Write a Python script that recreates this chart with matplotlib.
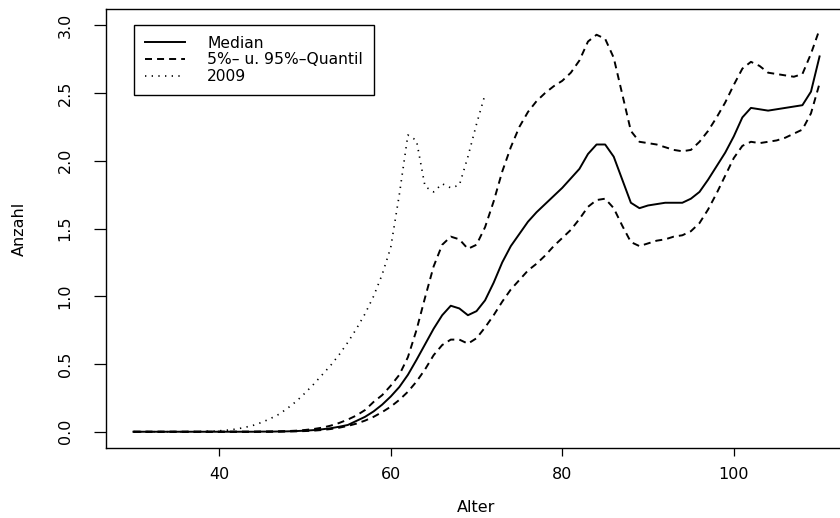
import matplotlib
matplotlib.use("Agg")
import matplotlib.pyplot as plt
import numpy as np

plt.rcParams['font.family'] = ['DejaVu Sans']

# Alter 30..110
alter = list(range(30, 111))
median = [0.0] * 15 + [
    0.001, 0.001, 0.002, 0.003, 0.005, 0.008, 0.012, 0.018, 0.026, 0.037,   # 45-54
    0.05, 0.08, 0.11, 0.15, 0.20, 0.26, 0.33, 0.42, 0.53, 0.645,           # 55-64
    0.76, 0.86, 0.93, 0.91, 0.86, 0.89, 0.97, 1.10, 1.25, 1.37,            # 65-74
    1.46, 1.55, 1.62, 1.68, 1.74, 1.80, 1.87, 1.94, 2.05, 2.12,            # 75-84
    2.12, 2.03, 1.86, 1.69, 1.65, 1.67, 1.68, 1.69, 1.69, 1.69,            # 85-94
    1.72, 1.77, 1.86, 1.96, 2.06, 2.18, 2.32, 2.39, 2.38, 2.37,            # 95-104
    2.38, 2.39, 2.40, 2.41, 2.51, 2.77]                                    # 105-110
q05 = [0.0] * 17 + [
    0.001, 0.002, 0.003, 0.005, 0.008, 0.013, 0.02, 0.03,                  # 47-54
    0.043, 0.06, 0.082, 0.11, 0.145, 0.185, 0.235, 0.295, 0.37, 0.46,      # 55-64
    0.565, 0.64, 0.68, 0.68, 0.65, 0.69, 0.77, 0.86, 0.96, 1.05,           # 65-74
    1.12, 1.19, 1.24, 1.30, 1.37, 1.43, 1.49, 1.57, 1.66, 1.71,            # 75-84
    1.72, 1.65, 1.52, 1.40, 1.37, 1.39, 1.41, 1.42, 1.44, 1.45,            # 85-94
    1.48, 1.54, 1.64, 1.76, 1.89, 2.02, 2.11, 2.14, 2.13, 2.14,            # 95-104
    2.15, 2.17, 2.20, 2.23, 2.35, 2.57]                                    # 105-110
q95 = [0.0] * 15 + [
    0.001, 0.002, 0.003, 0.005, 0.008, 0.013, 0.02, 0.03, 0.045, 0.065,    # 45-54
    0.09, 0.12, 0.16, 0.22, 0.27, 0.34, 0.42, 0.55, 0.75, 0.99,            # 55-64
    1.22, 1.38, 1.44, 1.42, 1.35, 1.38, 1.51, 1.70, 1.92, 2.10,            # 65-74
    2.25, 2.36, 2.44, 2.50, 2.55, 2.59, 2.65, 2.74, 2.88, 2.93,            # 75-84
    2.90, 2.76, 2.49, 2.22, 2.14, 2.13, 2.12, 2.10, 2.08, 2.07,            # 85-94
    2.08, 2.14, 2.22, 2.32, 2.43, 2.56, 2.68, 2.73, 2.70, 2.65,            # 95-104
    2.64, 2.63, 2.62, 2.64, 2.79, 2.97]                                    # 105-110

# Jahr 2009, Alter 30..71
alter_2009 = list(range(30, 72))
werte_2009 = [0.0] * 8 + [
    0.002, 0.004, 0.007, 0.012, 0.02, 0.032, 0.048,                        # 38-44
    0.07, 0.098, 0.13, 0.175, 0.225, 0.285, 0.35, 0.42, 0.49, 0.57,        # 45-54
    0.66, 0.76, 0.87, 1.0, 1.16, 1.36, 1.75, 2.19, 2.15, 1.81,             # 55-64
    1.77, 1.83, 1.80, 1.82, 2.03, 2.27, 2.49]                              # 65-71

fig = plt.figure(figsize=(8.4, 5.18), dpi=100)
ax = fig.add_axes([106 / 840, 70 / 518, 741 / 840, 439 / 518])

lw = 1.4
ax.plot(alter, median, color='black', lw=lw, label='Median')
ax.plot(alter, q05, color='black', lw=lw, dashes=(3.6, 2.6),
        label='5%\u2013 u. 95%\u2013Quantil')
ax.plot(alter, q95, color='black', lw=lw, dashes=(3.6, 2.6))
ax.plot(alter_2009, werte_2009, color='black', lw=1.2, dashes=(0.8, 3.2),
        label='2009')

ax.set_xlim(26.8, 113.2)
ax.set_ylim(-0.12, 3.12)
ax.set_xticks([40, 60, 80, 100])
ax.set_yticks([0.0, 0.5, 1.0, 1.5, 2.0, 2.5, 3.0])
ax.set_yticklabels(['0.0', '0.5', '1.0', '1.5', '2.0', '2.5', '3.0'],
                   rotation=90, va='center')
ax.tick_params(axis='x', direction='out', length=6, width=0.9,
               pad=8, labelsize=11.5)
ax.tick_params(axis='y', direction='out', length=9, width=0.9,
               pad=15, labelsize=11.5)
for s in ax.spines.values():
    s.set_linewidth(1.0)

ax.set_xlabel('Alter', fontsize=11.5, labelpad=13)
ax.set_ylabel('Anzahl', fontsize=11.5, labelpad=22)

leg = ax.legend(loc='upper left', bbox_to_anchor=(134 / 840, 1 - 25 / 518),
                bbox_transform=fig.transFigure, borderaxespad=0,
                fontsize=11.2, handlelength=2.55, handletextpad=1.45,
                borderpad=0.7, labelspacing=0.1, fancybox=False,
                framealpha=1)
leg.get_frame().set_edgecolor('black')
leg.get_frame().set_linewidth(1.0)

fig.savefig('out.png', dpi=100)
